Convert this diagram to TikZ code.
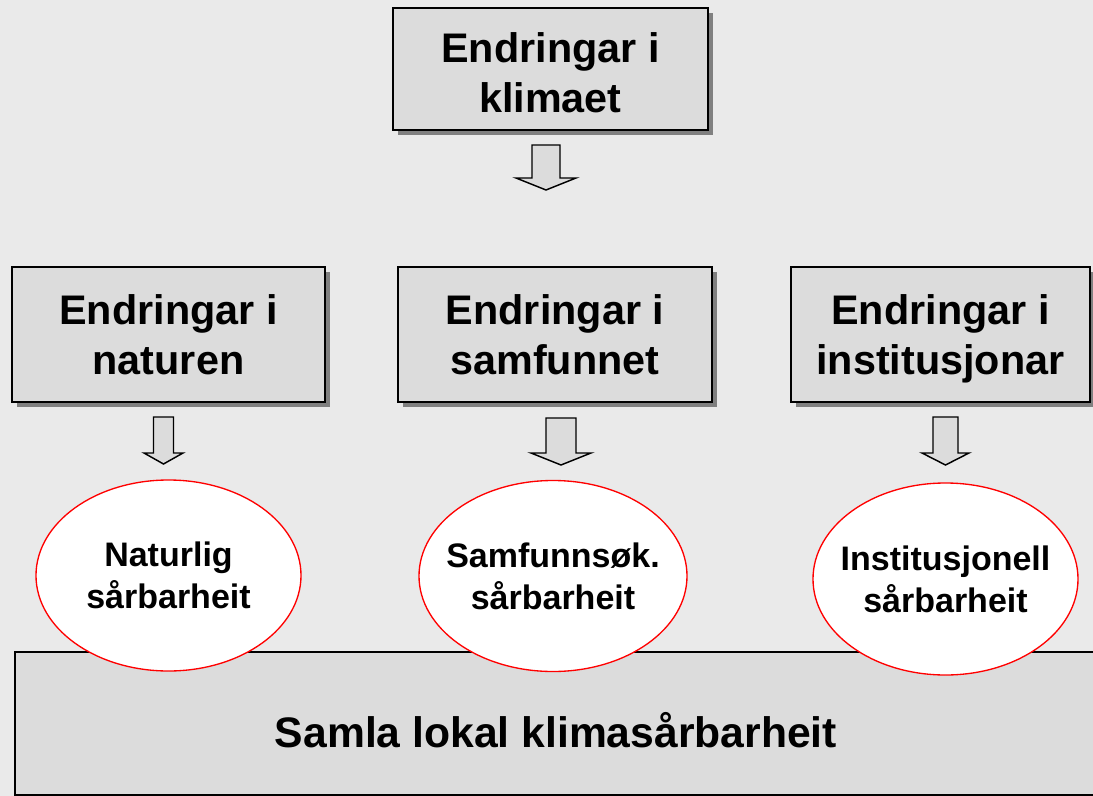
\documentclass[tikz,border=0pt]{standalone}
\usepackage{fontspec}
\setmainfont{Liberation Sans}
\usetikzlibrary{shadows,shapes.geometric}
\definecolor{bgc}{HTML}{EAEAEA}
\definecolor{boxc}{HTML}{DCDCDC}
\definecolor{shc}{HTML}{808080}
\newcommand\blockarr[6]{%
  \draw[blockarrow] (#1-#3,#2) -- (#1+#3,#2) -- (#1+#3,#5) -- (#1+#4,#5) -- (#1,#6) -- (#1-#4,#5) -- (#1-#3,#5) -- cycle;}
\begin{document}
\begin{tikzpicture}[x=0.75pt,y=-0.75pt,
  box/.style={draw=black,line width=1.2pt,fill=boxc,inner sep=0pt,align=center,
    font=\bfseries\fontsize{31}{37.5}\selectfont,
    drop shadow={shadow xshift=3.75pt,shadow yshift=-3.75pt,fill=shc,opacity=1}},
  oval/.style={ellipse,draw=red,line width=1pt,fill=white,inner sep=0pt},
  ovaltext/.style={inner sep=0pt,align=center,font=\bfseries\fontsize{25.5}{31.5}\selectfont},
  blockarrow/.style={draw=black,line width=1.1pt,fill=boxc,line join=miter},
  basebox/.style={draw=black,line width=1.2pt,fill=boxc,inner sep=0pt},
  basetext/.style={font=\bfseries\fontsize{32}{38}\selectfont,inner sep=0pt}
]
\useasboundingbox (0,0) rectangle (1093,796);
\fill[bgc] (0,0) rectangle (1093,796);

% top box
\node[box,minimum width={315*0.75pt},minimum height={122*0.75pt}] (clim) at (550.5,69) {\rule{0pt}{0.9em}Endringar i\\klimaet};
\blockarr{546}{145}{14}{30}{178}{190}

% middle row
\node[box,minimum width={313*0.75pt},minimum height={135*0.75pt}] (nat) at (168.5,334.5) {Endringar i\\naturen};
\node[box,minimum width={314*0.75pt},minimum height={135*0.75pt}] (sam) at (555,334.5) {Endringar i\\samfunnet};
\node[box,minimum width={299*0.75pt},minimum height={135*0.75pt}] (inst) at (940.5,334.5) {Endringar i\\\smash{institusjonar}};

\blockarr{163.5}{417}{10}{19.5}{453}{464}
\blockarr{561}{418}{15}{30}{453}{465}
\blockarr{945.5}{417}{12.5}{23.5}{453}{465}

% bottom box
\node[basebox,minimum width={1090*0.75pt},minimum height={143*0.75pt}] (total) at (560,723.5) {};
\node[basetext] (totaltxt) at (556,730) {Samla lokal klimasårbarheit};

% ellipses
\node[oval,minimum width={265*0.75pt},minimum height={191*0.75pt},
  label={[ovaltext]center:Naturlig\\sårbarheit}] (natv) at (168.5,575.5) {};
\node[oval,minimum width={268*0.75pt},minimum height={191*0.75pt},
  label={[ovaltext]center:Samfunnsøk.\\sårbarheit}] (samv) at (553,576) {};
\node[oval,minimum width={265*0.75pt},minimum height={192*0.75pt},
  label={[ovaltext]center:Institusjonell\\sårbarheit}] (instv) at (945.5,579) {};
\end{tikzpicture}
\end{document}
